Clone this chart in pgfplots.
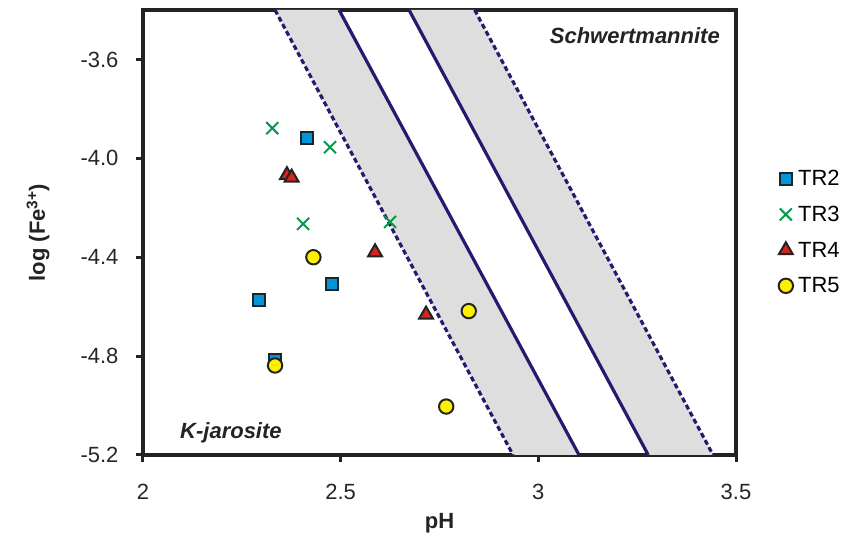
\documentclass[border=0pt]{standalone}
\usepackage{fontspec}
\setmainfont{Liberation Sans}
\usepackage{pgfplots}
\pgfplotsset{compat=1.18}
\definecolor{navy}{RGB}{35,28,110}
\definecolor{bandgrey}{RGB}{222,222,222}
\definecolor{trblue}{RGB}{0,150,220}
\definecolor{trgreen}{RGB}{0,155,75}
\definecolor{trred}{RGB}{215,35,30}
\definecolor{tryellow}{RGB}{255,240,0}
\definecolor{axisc}{RGB}{35,35,35}
\begin{document}
\begin{tikzpicture}
\path[use as bounding box] (-143pt,-82pt) rectangle (702pt,455pt);
\begin{axis}[
  at={(0,0)}, anchor=south west,
  width=593pt, height=445pt, scale only axis,
  xmin=2, xmax=3.5, ymin=-5.2, ymax=-3.4,
  xtick={2,2.5,3,3.5}, xticklabels={2,2.5,3,3.5},
  ytick={-5.2,-4.8,-4.4,-4.0,-3.6}, yticklabels={-5.2,-4.8,-4.4,-4.0,-3.6},
  xtick pos=bottom, ytick pos=left, tick align=outside,
  major tick length=7pt,
  tick style={line width=3pt, color=axisc},
  axis line style={line width=3.2pt, color=axisc},
  ticklabel style={font=\fontsize{22}{26}\selectfont, color=black!85},
  xticklabel style={yshift=-19pt},
  yticklabel style={xshift=-14pt},
  xlabel={\textbf{pH}},
  ylabel={\textbf{log (Fe\textsuperscript{3+})}},
  label style={font=\fontsize{22}{26}\selectfont, color=axisc},
  xlabel style={at={(axis description cs:0.5,0)}, anchor=center, yshift=-68pt},
  ylabel style={at={(axis description cs:0,0.5)}, anchor=center, yshift=105pt},
  clip=true,
  legend style={draw=none, fill=none, at={(1.0716,0.645)}, anchor=north west,
    font=\fontsize{22}{26}\selectfont, row sep=15pt, column sep=3pt,
    legend cell align=left, inner sep=0pt},
]
% bands
\addplot[fill=bandgrey, draw=none, forget plot] coordinates {(2.334,-3.4) (2.496,-3.4) (3.103,-5.2) (2.936,-5.2)} -- cycle;
\addplot[fill=bandgrey, draw=none, forget plot] coordinates {(2.673,-3.4) (2.839,-3.4) (3.442,-5.2) (3.278,-5.2)} -- cycle;
% lines
\addplot[navy, line width=3.2pt, dash pattern=on 5pt off 3pt, forget plot] coordinates {(2.334,-3.4) (2.936,-5.2)};
\addplot[navy, line width=3.2pt, forget plot] coordinates {(2.496,-3.4) (3.103,-5.2)};
\addplot[navy, line width=3.2pt, forget plot] coordinates {(2.673,-3.4) (3.278,-5.2)};
\addplot[navy, line width=3.2pt, dash pattern=on 5pt off 3pt, forget plot] coordinates {(2.839,-3.4) (3.442,-5.2)};
% data
\addplot[only marks, mark=square*, mark size=6pt, mark options={fill=trblue, draw=axisc, line width=2pt}] coordinates {
(2.414,-3.916) (2.294,-4.573) (2.478,-4.508) (2.334,-4.815)};
\addlegendentry{TR2}
\addplot[only marks, mark=x, mark size=8.5pt, mark options={draw=trgreen, line width=2pt}] coordinates {
(2.327,-3.878) (2.473,-3.955) (2.405,-4.265) (2.625,-4.257)};
\addlegendentry{TR3}
\addplot[only marks, mark=triangle*, mark size=8pt, mark options={fill=trred, draw=axisc, line width=2pt}] coordinates {
(2.364,-4.068) (2.376,-4.078) (2.587,-4.380) (2.716,-4.632)};
\addlegendentry{TR4}
\addplot[only marks, mark=*, mark size=7.2pt, mark options={fill=tryellow, draw=axisc, line width=2pt}] coordinates {
(2.431,-4.400) (2.824,-4.618) (2.334,-4.838) (2.767,-5.004)};
\addlegendentry{TR5}
\node[anchor=east, inner sep=0pt, font=\fontsize{22}{26}\selectfont\bfseries\itshape, color=axisc] at (rel axis cs:0.973,0.9416) {Schwertmannite};
\node[anchor=west, inner sep=0pt, font=\fontsize{22}{26}\selectfont\bfseries\itshape, color=axisc] at (rel axis cs:0.0624,0.049) {K-jarosite};
\end{axis}
\end{tikzpicture}
\end{document}
